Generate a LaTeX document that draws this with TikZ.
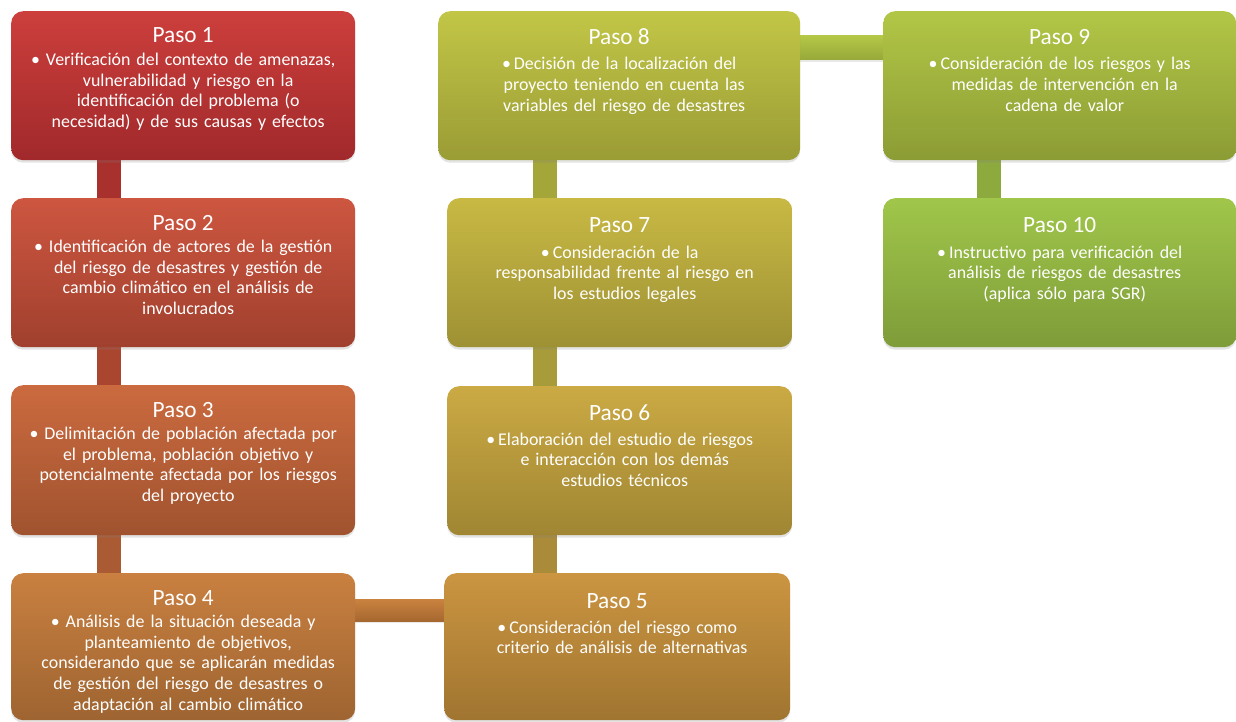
\documentclass[tikz,border=0pt]{standalone}
\usepackage{fontspec}
\setmainfont{Carlito}
\usetikzlibrary{shadows}
\definecolor{bAt}{HTML}{CC3F3C}\definecolor{bAb}{HTML}{A1292B}
\definecolor{bBt}{HTML}{CD5640}\definecolor{bBb}{HTML}{A0402E}
\definecolor{bCt}{HTML}{CB6A3F}\definecolor{bCb}{HTML}{A0532F}
\definecolor{bDt}{HTML}{C98040}\definecolor{bDb}{HTML}{9E6431}
\definecolor{bEt}{HTML}{CB9541}\definecolor{bEb}{HTML}{A07530}
\definecolor{bFt}{HTML}{CBAA44}\definecolor{bFb}{HTML}{A08633}
\definecolor{bGt}{HTML}{C8B944}\definecolor{bGb}{HTML}{9E9134}
\definecolor{bHt}{HTML}{C2C646}\definecolor{bHb}{HTML}{9A9C35}
\definecolor{bIt}{HTML}{B2C646}\definecolor{bIb}{HTML}{8C9C35}
\definecolor{bJt}{HTML}{A0C64A}\definecolor{bJb}{HTML}{7E9C39}
\definecolor{vAB}{HTML}{A9312D}
\definecolor{vBC}{HTML}{AA4530}
\definecolor{vCD}{HTML}{AB5B33}
\definecolor{vHG}{HTML}{A5A639}
\definecolor{vGF}{HTML}{A89C3A}
\definecolor{vFE}{HTML}{AA8B39}
\definecolor{vIJ}{HTML}{8DAA3F}
\definecolor{hDEt}{HTML}{CA823F}\definecolor{hDEb}{HTML}{A66830}
\definecolor{hHIt}{HTML}{B4C747}\definecolor{hHIb}{HTML}{97A839}
\tikzset{
  stepbox/.style={rounded corners=12pt, draw=none, anchor=north west, inner sep=0pt,
    drop shadow={opacity=0.22, shadow xshift=0pt, shadow yshift=-2.5pt}},
  phbox/.style={anchor=north west, inner sep=0pt},
  titletxt/.style={text=white, font=\fontsize{23.3}{26}\selectfont, anchor=base, inner sep=0pt},
  bodytxt/.style={text=white, font=\fontsize{17.9}{20.7}\selectfont, anchor=base, inner sep=0pt,
    text width=350pt, align=center},
  vbar/.style={line width=24pt},
}
\newcommand\hl{\hspace*{10pt}}
\newcommand\bul{•\hspace{3pt}}
% name, x, y, w, h, colour prefix
\newcommand\pasobox[6]{%
  \node[stepbox, top color=#6t, bottom color=#6b, minimum width=#4pt, minimum height=#5pt] (#1) at (#2,#3) {};}
\begin{document}
\begin{tikzpicture}[x=1pt,y=-1pt]
\useasboundingbox (0,0) rectangle (1236,722);
% reference coordinates for connectors
\coordinate (cA) at (109,0);
\coordinate (cB) at (545,0);
\coordinate (cC) at (989,0);
\coordinate (hDEa) at (0,599);
\coordinate (hDEz) at (0,621);
\coordinate (hHIa) at (0,36);
\coordinate (hHIz) at (0,60);
% placeholders giving the boxes' outlines for the connectors
\begin{scope}[opacity=0]
  \node[phbox, minimum width=344pt, minimum height=149pt] (b1) at (11,11) {};
  \node[phbox, minimum width=344pt, minimum height=149pt] (b2) at (11,198) {};
  \node[phbox, minimum width=344pt, minimum height=150pt] (b3) at (11,385) {};
  \node[phbox, minimum width=344pt, minimum height=147pt] (b4) at (11,573) {};
  \node[phbox, minimum width=346pt, minimum height=147pt] (b5) at (444,573) {};
  \node[phbox, minimum width=345pt, minimum height=149pt] (b6) at (447,386) {};
  \node[phbox, minimum width=345pt, minimum height=149pt] (b7) at (447,198) {};
  \node[phbox, minimum width=362pt, minimum height=149pt] (b8) at (438,11) {};
  \node[phbox, minimum width=353pt, minimum height=149pt] (b9) at (883,11) {};
  \node[phbox, minimum width=353pt, minimum height=149pt] (b10) at (883,198) {};
\end{scope}
% connectors
\draw[vbar, vAB] (b1.south -| cA) -- (b2.north -| cA);
\draw[vbar, vBC] (b2.south -| cA) -- (b3.north -| cA);
\draw[vbar, vCD] (b3.south -| cA) -- (b4.north -| cA);
\draw[vbar, vHG] (b8.south -| cB) -- (b7.north -| cB);
\draw[vbar, vGF] (b7.south -| cB) -- (b6.north -| cB);
\draw[vbar, vFE] (b6.south -| cB) -- (b5.north -| cB);
\draw[vbar, vIJ] (b9.south -| cC) -- (b10.north -| cC);
\fill[top color=hDEt, bottom color=hDEb, drop shadow={opacity=0.18, shadow xshift=0pt, shadow yshift=-2pt}]
  ([xshift=-2pt]b4.east |- hDEa) rectangle ([xshift=2pt]b5.west |- hDEz);
\fill[top color=hHIt, bottom color=hHIb, drop shadow={opacity=0.18, shadow xshift=0pt, shadow yshift=-2pt}]
  ([xshift=-2pt]b8.east |- hHIa) rectangle ([xshift=2pt]b9.west |- hHIz);
% boxes
\pasobox{B1}{11}{11}{344}{149}{bA}
\pasobox{B2}{11}{198}{344}{149}{bB}
\pasobox{B3}{11}{385}{344}{150}{bC}
\pasobox{B4}{11}{573}{344}{147}{bD}
\pasobox{B5}{444}{573}{346}{147}{bE}
\pasobox{B6}{447}{386}{345}{149}{bF}
\pasobox{B7}{447}{198}{345}{149}{bG}
\pasobox{B8}{438}{11}{362}{149}{bH}
\pasobox{B9}{883}{11}{353}{149}{bI}
\pasobox{B10}{883}{198}{353}{149}{bJ}
% texts
\node[titletxt] (t1) at ([yshift=-32pt]B1.north) {Paso 1};
\node[bodytxt] (d1) at ([yshift=-54.5pt]B1.north) {• Verificación del contexto de amenazas,\\ \hl vulnerabilidad y riesgo en la\\ \hl identificación del problema (o\\ \hl necesidad) y de sus causas y efectos};
\node[titletxt] (t2) at ([yshift=-32pt]B2.north) {Paso 2};
\node[bodytxt] (d2) at ([yshift=-54.5pt]B2.north) {• Identificación de actores de la gestión\\ \hl del riesgo de desastres y gestión de\\ \hl cambio climático en el análisis de\\ \hl involucrados};
\node[titletxt] (t3) at ([yshift=-32pt]B3.north) {Paso 3};
\node[bodytxt] (d3) at ([yshift=-54.5pt]B3.north) {• Delimitación de población afectada por\\ \hl el problema, población objetivo y\\ \hl potencialmente afectada por los riesgos\\ \hl del proyecto};
\node[titletxt] (t4) at ([yshift=-32pt]B4.north) {Paso 4};
\node[bodytxt] (d4) at ([yshift=-54.5pt]B4.north) {• Análisis de la situación deseada y\\ \hl planteamiento de objetivos,\\ \hl considerando que se aplicarán medidas\\ \hl de gestión del riesgo de desastres o\\ \hl adaptación al cambio climático};
\node[titletxt] (t5) at ([yshift=-35pt]B5.north) {Paso 5};
\node[bodytxt] (d5) at ([yshift=-60pt]B5.north) {\bul Consideración del riesgo como\\ \hl criterio de análisis de alternativas};
\node[titletxt] (t6) at ([yshift=-34pt]B6.north) {Paso 6};
\node[bodytxt] (d6) at ([yshift=-59pt]B6.north) {\bul Elaboración del estudio de riesgos\\ \hl e interacción con los demás\\ \hl estudios técnicos};
\node[titletxt] (t7) at ([yshift=-34pt]B7.north) {Paso 7};
\node[bodytxt] (d7) at ([yshift=-60pt]B7.north) {\bul Consideración de la\\ \hl responsabilidad frente al riesgo en\\ \hl los estudios legales};
\node[titletxt] (t8) at ([yshift=-34pt]B8.north) {Paso 8};
\node[bodytxt] (d8) at ([yshift=-59pt]B8.north) {\bul Decisión de la localización del\\ \hl proyecto teniendo en cuenta las\\ \hl variables del riesgo de desastres};
\node[titletxt] (t9) at ([yshift=-34pt]B9.north) {Paso 9};
\node[bodytxt] (d9) at ([yshift=-59pt]B9.north) {\bul Consideración de los riesgos y las\\ \hl medidas de intervención en la\\ \hl cadena de valor};
\node[titletxt] (t10) at ([yshift=-34pt]B10.north) {Paso 10};
\node[bodytxt] (d10) at ([yshift=-60pt]B10.north) {\bul Instructivo para verificación del\\ \hl análisis de riesgos de desastres\\ \hl (aplica sólo para SGR)};
\end{tikzpicture}
\end{document}
